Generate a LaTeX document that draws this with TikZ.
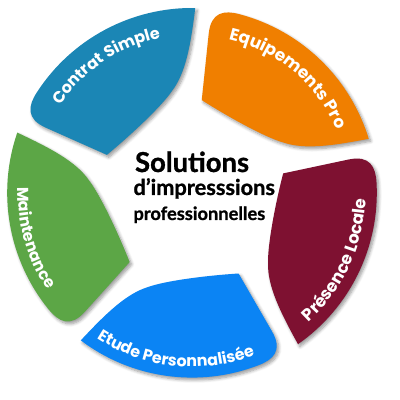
\documentclass[tikz,border=0pt]{standalone}
\usepackage{fontspec}
\setmainfont{Poppins}
\newfontfamily\centrefont{Lato}[BoldFeatures={FakeBold=1}]
\usetikzlibrary{decorations.text,shadows.blur}
\definecolor{contratcol}{RGB}{27,134,181}
\definecolor{equipcol}{RGB}{240,127,0}
\definecolor{presencecol}{RGB}{126,17,49}
\definecolor{etudecol}{RGB}{11,132,244}
\definecolor{maintcol}{RGB}{92,166,70}
\newcommand{\petalpath}{(0:2.33) -- (0:4.0) .. controls (0:4.55) and (-4:4.64) .. (-9:4.62)
  arc[start angle=-9, end angle=-67, radius=4.62]
  .. controls (-65.5:3.7) and (-63:3.0) .. (-55:2.6)
  .. controls (-47:2.3) and (-20:2.1) .. cycle}

\begin{document}
\begin{tikzpicture}[
    petal/.style={fill=#1, blur shadow={shadow xshift=0.5mm, shadow yshift=-0.6mm,
      shadow blur steps=6, shadow opacity=40}},
    seglabel/.style 2 args={decorate, decoration={text along path, text align=center,
      text color=white, text={|\bfseries\fontsize{#1}{14}\selectfont|#2}}}]
  \useasboundingbox (0,0) rectangle (10,10);
  \coordinate (c) at (4.8,5.18);
  % ---------------- the five petals ----------------
  \foreach \ang/\col in {156/contratcol,84/equipcol,12/presencecol,-60/etudecol,-132/maintcol}
    \fill[petal=\col, shift={(c)}, rotate=\ang] \petalpath;
  % labels on top run clockwise, on the bottom counter-clockwise
  \path[seglabel={11.4}{Contrat Simple}, shift={(c)}] (154:3.95) arc[start angle=154, end angle=94, radius=3.95];
  \path[seglabel={12}{Equipements Pro}, shift={(c)}] (80:3.95) arc[start angle=80, end angle=20, radius=3.95];
  \path[seglabel={12}{Présence Locale}, shift={(c)}] (-55:4.35) arc[start angle=-55, end angle=5, radius=4.35];
  \path[seglabel={11.3}{Etude Personnalisée}, shift={(c)}] (-126:4.35) arc[start angle=-126, end angle=-66, radius=4.35];
  \path[seglabel={11.3}{Maintenance}, shift={(c)}] (-194:4.35) arc[start angle=-194, end angle=-134, radius=4.35];
  % ---------------- centre ----------------
  \node[font=\centrefont\bfseries\fontsize{19.5}{21}\selectfont, anchor=base west, inner sep=0pt] (sol) at (3.37,5.7) {Solutions};
  \node[font=\centrefont\bfseries\fontsize{15.5}{17}\selectfont, anchor=base west, inner sep=0pt] (imp) at (3.33,5.125) {d’impresssions};
  \node[font=\centrefont\bfseries\fontsize{13}{15}\selectfont, anchor=base west, inner sep=0pt] (pro) at (3.33,4.5) {professionnelles};
\end{tikzpicture}
\end{document}
